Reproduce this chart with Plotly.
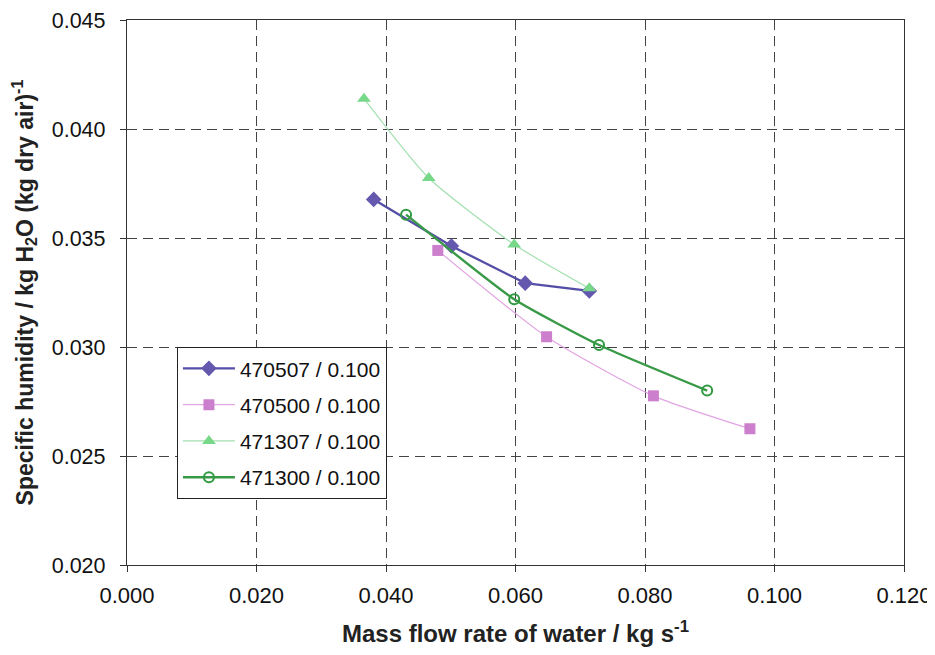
import plotly.graph_objects as go

x_470507 = [0.0381, 0.0501, 0.0615, 0.0714]
y_470507 = [0.03677, 0.03463, 0.03293, 0.03257]

x_470500 = [0.0480, 0.0648, 0.0813, 0.0962]
y_470500 = [0.03443, 0.03047, 0.02776, 0.02625]

x_471307 = [0.0366, 0.0466, 0.0598, 0.0714]
y_471307 = [0.04139, 0.03775, 0.0347, 0.03269]

x_471300 = [0.0431, 0.0598, 0.0729, 0.0896]
y_471300 = [0.03607, 0.03219, 0.03009, 0.0280]

names = ["470507 / 0.100", "470500 / 0.100", "471307 / 0.100", "471300 / 0.100"]

x_ticks = [0.000, 0.020, 0.040, 0.060, 0.080, 0.100, 0.120]
y_ticks = [0.020, 0.025, 0.030, 0.035, 0.040, 0.045]

fig = go.Figure()
fig.add_trace(go.Scatter(x=x_470507, y=y_470507, name=names[0], legendgroup="a",
                         mode="lines+markers",
                         line=dict(color="#544ea6", width=2.3),
                         marker=dict(symbol="diamond", size=12, color="#6458ae")))
fig.add_trace(go.Scatter(x=x_470500, y=y_470500, name=names[1], legendgroup="b",
                         mode="lines+markers",
                         line=dict(color="#e2a4e2", width=1.2, shape="spline", smoothing=0.6),
                         marker=dict(symbol="square", size=11, color="#cc7fcc")))
fig.add_trace(go.Scatter(x=x_471307, y=y_471307, name=names[2], legendgroup="c",
                         mode="lines+markers",
                         line=dict(color="#a4e0b0", width=1.2, shape="spline", smoothing=0.6),
                         marker=dict(symbol="triangle-up", size=12, color="#78d88a")))
fig.add_trace(go.Scatter(x=x_471300, y=y_471300, name=names[3], legendgroup="d",
                         mode="lines+markers",
                         line=dict(color="#389a46", width=2.4, shape="spline", smoothing=0.5),
                         marker=dict(symbol="circle-open", size=10, color="#2f9a40",
                                     line=dict(width=2))))

axis_common = dict(showline=True, linecolor="#333333", linewidth=1.3, mirror=True,
                   showgrid=True, gridcolor="#444444", griddash="10px,6px", gridwidth=1,
                   ticks="outside", ticklen=6, tickcolor="#333333", zeroline=False,
                   automargin=False, ticklabeloverflow="allow")

fig.update_xaxes(range=[0, 0.12], tickvals=x_ticks, tickformat=".3f",
                 tickfont=dict(family="Liberation Sans, Arial", size=22, color="#111111"),
                 ticklabelstandoff=4,
                 title=dict(text="<b>Mass flow rate of water / kg s<sup>-1</sup></b>",
                            font=dict(family="Liberation Sans, Arial", size=24, color="#222222"),
                            standoff=18),
                 **axis_common)
fig.update_yaxes(range=[0.020, 0.045], tickvals=y_ticks, tickformat=".3f",
                 tickfont=dict(family="Liberation Sans, Arial", size=21.5, color="#111111"),
                 ticklabelstandoff=10,
                 title=dict(text="<b>Specific humidity / kg H<sub>2</sub>O (kg dry air)<sup>-1</sup></b>",
                            font=dict(family="Liberation Sans, Arial", size=23, color="#222222"),
                            standoff=12),
                 **axis_common)

fig.update_layout(
    width=927, height=647,
    margin=dict(l=119, r=31, t=12, b=90),
    paper_bgcolor="white", plot_bgcolor="white",
    showlegend=True,
    legend=dict(x=0.064, y=0.40, xanchor="left", yanchor="top",
                bgcolor="white", bordercolor="#222222", borderwidth=1.2,
                font=dict(family="Liberation Sans, Arial", size=21, color="#111111"),
                traceorder="grouped", tracegroupgap=6, itemwidth=52),
)

fig.write_html("out.html")
